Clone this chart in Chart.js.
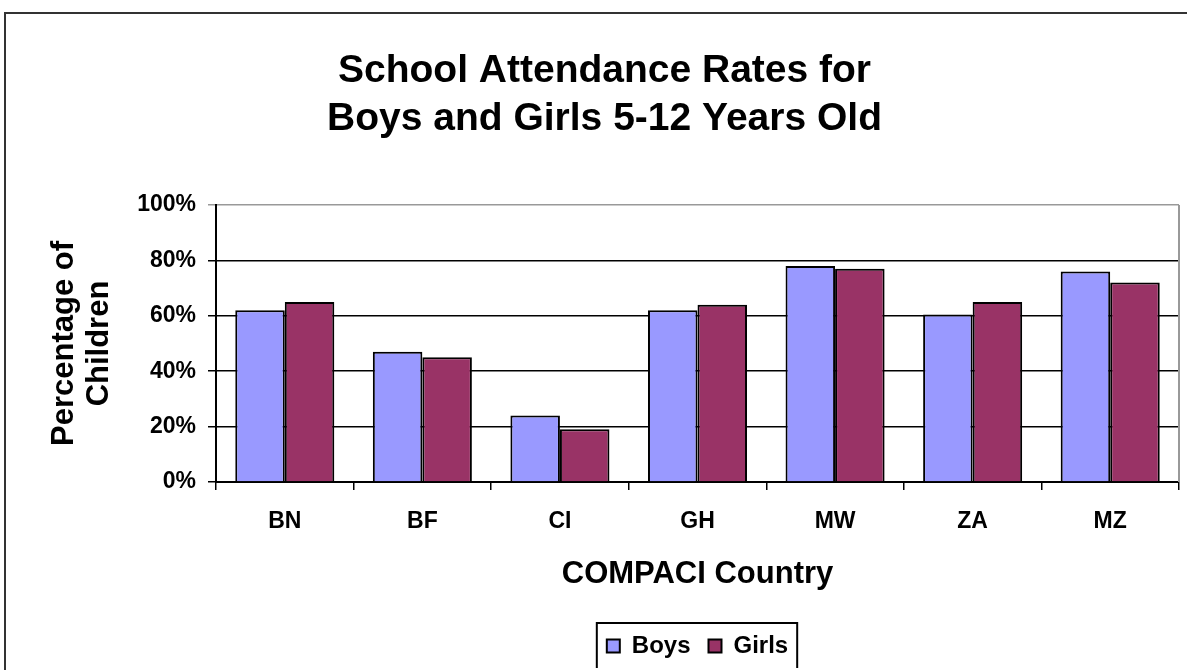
<!DOCTYPE html>
<html>
<head>
<meta charset="utf-8">
<script src="https://cdn.jsdelivr.net/npm/chart.js@4"></script>
<style>
  html, body { margin: 0; padding: 0; background: #fff; overflow: hidden; }
  #frame {
    position: absolute; left: 4px; top: 12px;
    width: 1183px; height: 680px;
    border-left: 2px solid #333; border-top: 2px solid #333;
  }
  #chartBox { position: relative; width: 1181px; height: 654px; }
</style>
</head>
<body>
<div id="frame"><div id="chartBox"><canvas id="attendanceChart"></canvas></div></div>
<script>
var countries = ["BN", "BF", "CI", "GH", "MW", "ZA", "MZ"];
var boysRates = [62, 47, 24, 62, 78, 60.5, 76];
var girlsRates = [65, 45, 19, 64, 77, 65, 72];
var percentTicks = [0, 20, 40, 60, 80, 100];

var fontFamily = "'Liberation Sans', Arial, sans-serif";

// gray right edge of the plot and a frame round the legend
var plotExtras = {
    id: 'plotExtras',
    afterDraw: function(chart) {
        var ctx = chart.ctx;
        var area = chart.chartArea;
        ctx.save();
        ctx.strokeStyle = '#999';
        ctx.lineWidth = 2;
        ctx.beginPath();
        ctx.moveTo(area.right, area.top);
        ctx.lineTo(area.right, area.bottom);
        ctx.stroke();

        var boxes = chart.legend.legendHitBoxes;
        if (boxes && boxes.length) {
            var minX = Infinity, maxX = -Infinity, minY = Infinity, maxY = -Infinity;
            boxes.forEach(function(b) {
                minX = Math.min(minX, b.left);
                maxX = Math.max(maxX, b.left + b.width);
                minY = Math.min(minY, b.top);
                maxY = Math.max(maxY, b.top + b.height);
            });
            ctx.strokeStyle = '#000';
            ctx.lineWidth = 2;
            ctx.strokeRect(minX - 10, minY - 11, maxX - minX + 19, maxY - minY + 22);
        }
        ctx.restore();
    }
};

new Chart("attendanceChart", {
    type: 'bar',
    data: {
        labels: countries,
        datasets: [
            {
                label: 'Boys',
                data: boysRates,
                backgroundColor: '#9999ff',
                borderColor: '#000',
                borderWidth: 2
            },
            {
                label: 'Girls',
                data: girlsRates,
                backgroundColor: '#993366',
                borderColor: '#000',
                borderWidth: 2
            }
        ]
    },
    options: {
        responsive: true,
        maintainAspectRatio: false,
        animation: false,
        categoryPercentage: 0.72,
        barPercentage: 1.0,
        layout: { padding: { left: 24, right: 8, top: 0, bottom: 0 } },
        plugins: {
            title: {
                display: true,
                text: ['School Attendance Rates for', 'Boys and Girls 5-12 Years Old'],
                color: '#000',
                font: { family: fontFamily, size: 39, weight: 'bold', lineHeight: 1.231 },
                padding: { top: 33, bottom: 62 }
            },
            legend: {
                position: 'bottom',
                fullSize: false,
                labels: {
                    color: '#000',
                    boxWidth: 13,
                    boxHeight: 13,
                    padding: 18,
                    font: { family: fontFamily, size: 24, weight: 'bold' }
                }
            },
            tooltip: { enabled: false }
        },
        scales: {
            x: {
                afterFit: function(scale) { scale.height = 134; },
                grid: {
                    offset: true,
                    drawOnChartArea: false,
                    color: '#000',
                    lineWidth: 1.5,
                    tickLength: 8
                },
                border: { color: '#000', width: 2 },
                ticks: {
                    color: '#000',
                    padding: 18,
                    font: { family: fontFamily, size: 23, weight: 'bold' }
                },
                title: {
                    display: true,
                    text: 'COMPACI Country',
                    color: '#000',
                    font: { family: fontFamily, size: 31, weight: 'bold', lineHeight: 1.16 },
                    padding: { top: 0, bottom: 24 }
                }
            },
            y: {
                min: 0,
                max: 100,
                afterFit: function(scale) { scale.width = 186; },
                afterBuildTicks: function(scale) {
                    scale.ticks = percentTicks.map(function(v) { return { value: v }; });
                },
                grid: {
                    color: function(c) { return c.tick && c.tick.value === 100 ? '#999' : '#000'; },
                    lineWidth: 1.5,
                    tickLength: 8
                },
                border: { color: '#000', width: 2 },
                ticks: {
                    color: '#000',
                    padding: 12,
                    font: { family: fontFamily, size: 23, weight: 'bold' },
                    callback: function(v) { return v + '%'; }
                },
                title: {
                    display: true,
                    text: ['Percentage of', 'Children'],
                    color: '#000',
                    font: { family: fontFamily, size: 31, weight: 'bold', lineHeight: 1.16 },
                    padding: { top: 16, bottom: 0 }
                }
            }
        }
    },
    plugins: [plotExtras]
});
</script>
</body>
</html>
